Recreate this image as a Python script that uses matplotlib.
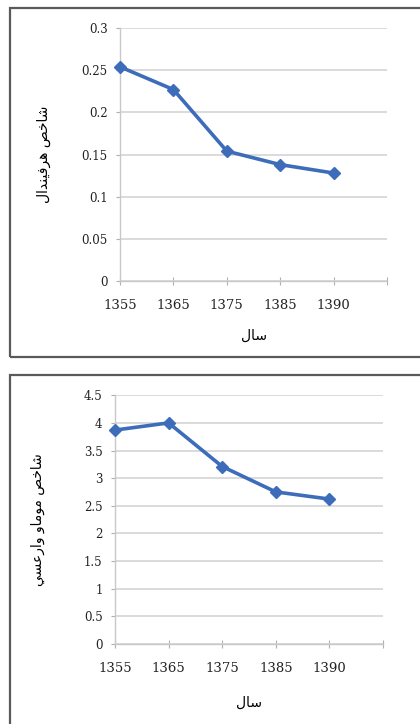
import matplotlib
matplotlib.use("Agg")
import matplotlib.pyplot as plt
from matplotlib.patches import Rectangle

# data
years = ["1355", "1365", "1375", "1385", "1390"]
herfindahl = [0.254, 0.227, 0.154, 0.138, 0.128]
second_index = [3.87, 4.00, 3.21, 2.75, 2.62]

# persian labels, written as shaped presentation forms in visual (left-to-right) order
def visual(codes):
    return "".join(chr(c) for c in reversed(codes))

shakhes = [0xFEB7, 0xFE8E, 0xFEA7, 0xFEBA]                                  # شاخص
herf = [0xFEEB, 0xFEAE, 0xFED3, 0xFEF4, 0xFEE8, 0xFEAA, 0xFE8D, 0xFEDD]     # هرفیندال
moma = [0xFEE3, 0xFEEE, 0xFEE3, 0xFE8E, 0xFEED]                              # موماو
vares = [0xFEED, 0xFE8D, 0xFEAD, 0xFECB, 0xFEB4, 0xFEF2]                     # وارعسی
sal = [0xFEB3, 0xFE8E, 0xFEDD]                                               # سال

ylabel_top = visual(shakhes + [0x20] + herf)
ylabel_bottom = visual(shakhes + [0x20] + moma + [0x20] + vares)
xlabel = visual(sal)

line_color = "#3D6DBA"
grid_color = "#D4D4D4"
text_color = "#222222"

fig = plt.figure(figsize=(4.2, 7.24), dpi=100)

# panel frames
fig.patches.append(Rectangle((10 / 420, 1 - 357 / 724), 420 / 420, 349 / 724, transform=fig.transFigure,
                             fill=False, edgecolor="#5A5A5A", linewidth=1.6))
fig.patches.append(Rectangle((10 / 420, -0.01), 420 / 420, 1 - 375 / 724 + 0.01, transform=fig.transFigure,
                             fill=False, edgecolor="#5A5A5A", linewidth=1.6))


def panel(rect, values, ymax, ystep, ylabel, ylab_x, xlab_y):
    ax = fig.add_axes(rect)
    x = list(range(len(years)))
    ax.plot(x, values, color=line_color, linewidth=2.6, marker="D", markersize=6.5,
            markeredgecolor=line_color, zorder=3, clip_on=False)
    ax.set_xlim(0, len(years))
    ax.set_ylim(0, ymax)
    ticks = [i * ystep for i in range(int(round(ymax / ystep)) + 1)]
    ax.set_yticks(ticks)
    ax.set_yticklabels([("%g" % t) for t in ticks], fontsize=8.5, family="DejaVu Serif", color=text_color)
    ax.set_xticks(range(len(years) + 1))
    ax.set_xticklabels(years + [""], fontsize=9.5, family="DejaVu Serif", color=text_color)
    ax.yaxis.grid(True, color=grid_color, linewidth=1.2)
    ax.set_axisbelow(True)
    for s in ["top", "right"]:
        ax.spines[s].set_visible(False)
    for s in ["left", "bottom"]:
        ax.spines[s].set_color("#C8C8C8")
        ax.spines[s].set_linewidth(1.0)
    ax.tick_params(axis="x", direction="inout", length=6, color="#B0B0B0", pad=10)
    ax.tick_params(axis="y", direction="out", length=3, color="#B0B0B0", pad=6)
    ax.set_ylabel(ylabel, fontsize=10, family="DejaVu Sans", color="black")
    ax.yaxis.set_label_coords(ylab_x, 0.5)
    ax.set_xlabel(xlabel, fontsize=10, family="DejaVu Sans", color="black")
    ax.xaxis.set_label_coords(0.5, xlab_y)
    return ax


panel([120 / 420, 1 - 281 / 724, 267 / 420, 253 / 724], herfindahl, 0.3, 0.05, ylabel_top, -0.26, -0.19)
panel([115 / 420, 1 - 643.7 / 724, 268 / 420, 248.4 / 724], second_index, 4.5, 0.5, ylabel_bottom, -0.26, -0.21)

fig.savefig("out.png", dpi=100)
